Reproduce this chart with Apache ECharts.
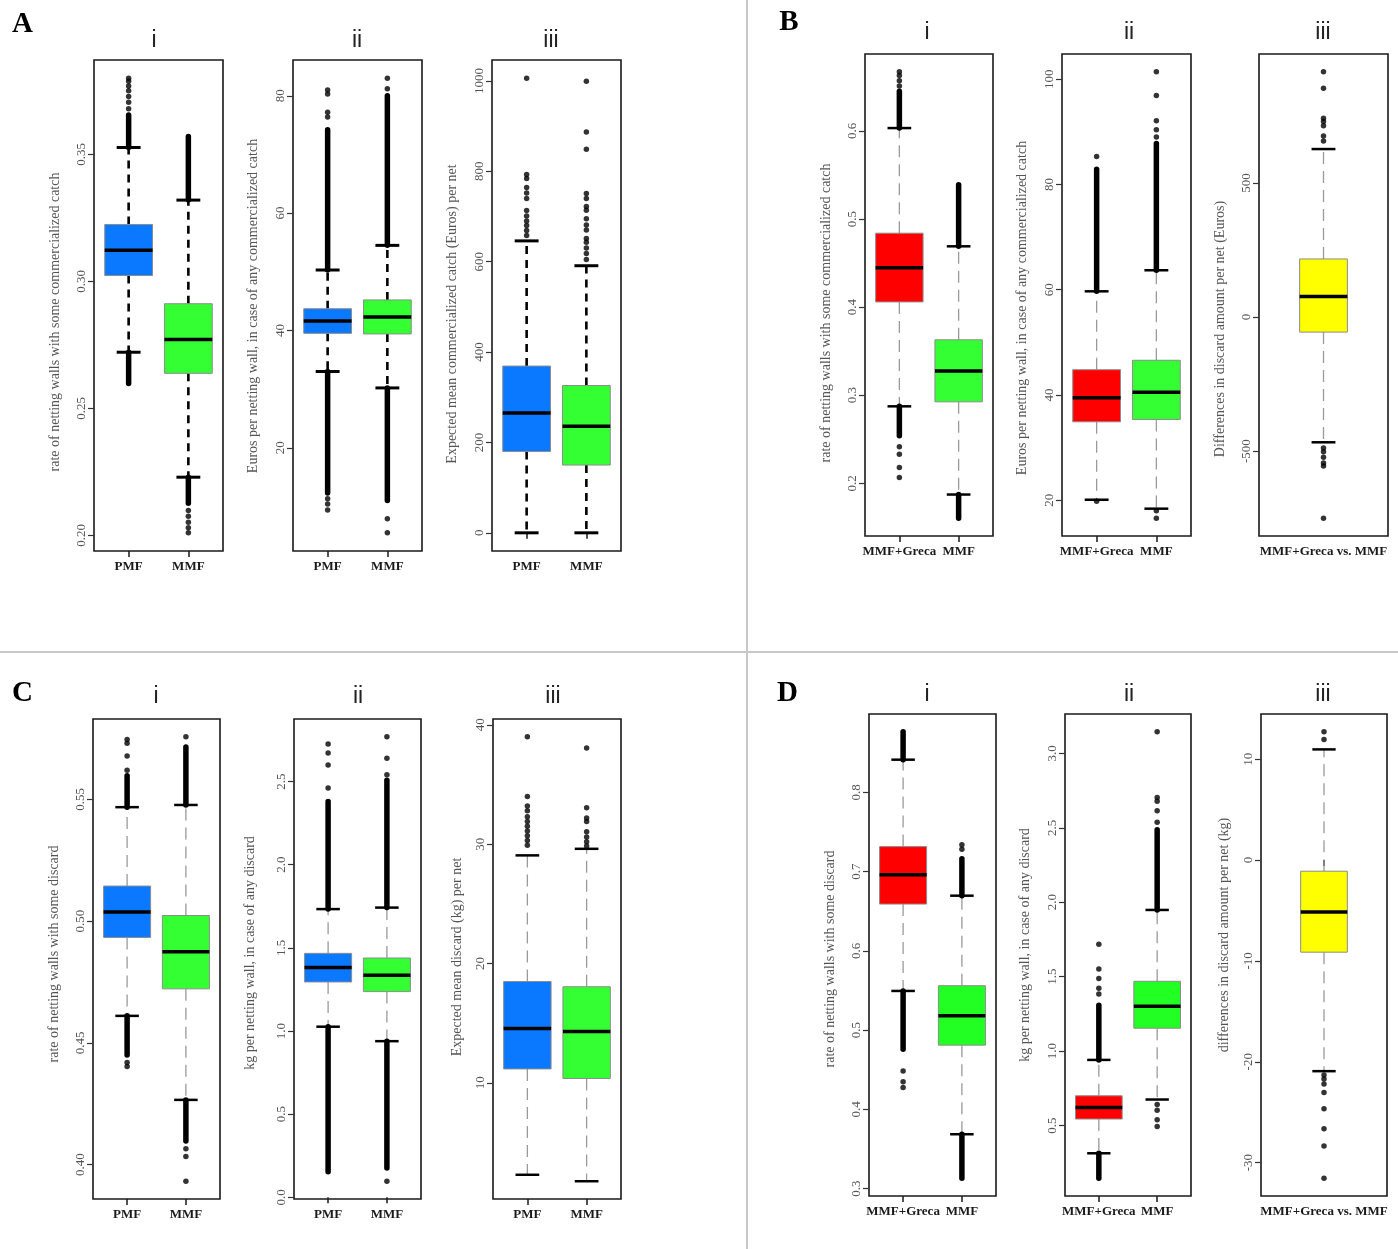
<!DOCTYPE html>
<html>
<head>
<meta charset="utf-8">
<script src="https://cdn.jsdelivr.net/npm/echarts@6/dist/echarts.min.js"></script>
<style>html,body{margin:0;padding:0;background:#fff}#c{width:1398px;height:1249px}</style>
</head>
<body>
<div id="c"></div>
<script>
// ---------- categories ----------
const catPM = ['PMF', 'MMF'];
const catGM = ['MMF+Greca', 'MMF'];
const catDiff = ['MMF+Greca vs. MMF'];

// ---------- data ----------
// box stats per group: [lower whisker, Q1, median, Q3, upper whisker]
// bands: dense runs of outliers per group, [from, to]
// points: individual outliers per group
// ----- A i -----
const Ai_box = [[0.2721, 0.3023, 0.3123, 0.3224, 0.3527], [0.2229, 0.2638, 0.2771, 0.2912, 0.3320]];
const Ai_bands = [[[0.3527, 0.3655], [0.2598, 0.2721]], [[0.3320, 0.3570], [0.2126, 0.2229]]];
const Ai_points = [[0.3680, 0.3705, 0.3728, 0.3751, 0.3769, 0.3788, 0.3800], [0.2098, 0.2075, 0.2052, 0.2030, 0.2010]];
const Ai_ticks = [0.20, 0.25, 0.30, 0.35];
// ----- A ii -----
const Aii_box = [[33.0, 39.5, 41.6, 43.7, 50.3], [30.2, 39.4, 42.3, 45.2, 54.5]];
const Aii_bands = [[[50.3, 74.2], [12.3, 33.0]], [[54.5, 80.0], [11.0, 30.2]]];
const Aii_points = [[76.4, 77.2, 80.3, 81.0, 11.3, 10.4, 9.4], [81.2, 83.0, 7.9, 5.5]];
const Aii_ticks = [20, 40, 60, 80];
// ----- A iii -----
const Aiii_box = [[0, 180, 265, 369, 646], [0, 150, 236, 326, 591]];
const Aiii_bands = [[], []];
const Aiii_points = [[1006, 793, 784, 764, 752, 740, 713, 701, 690, 680, 669, 658],
                     [999, 887, 849, 751, 740, 722, 714, 695, 681, 670, 651, 643, 630, 618, 605]];
const Aiii_ticks = [0, 200, 400, 600, 800, 1000];
// ----- B i -----
const Bi_box = [[0.2874, 0.4059, 0.4447, 0.4839, 0.6032], [0.1873, 0.2925, 0.3275, 0.3629, 0.4690]];
const Bi_bands = [[[0.6032, 0.6450], [0.2540, 0.2874]], [[0.4690, 0.5390], [0.1605, 0.1873]]];
const Bi_points = [[0.6510, 0.6570, 0.6630, 0.6670, 0.2415, 0.2330, 0.2180, 0.2065], []];
const Bi_ticks = [0.2, 0.3, 0.4, 0.5, 0.6];
// ----- B ii -----
const Bii_box = [[20.1, 34.9, 39.5, 44.8, 59.7], [18.4, 35.35, 40.5, 46.6, 63.7]];
const Bii_bands = [[[59.7, 82.9]], [[63.7, 87.8]]];
const Bii_points = [[85.3, 19.8], [89.0, 90.4, 92.1, 96.9, 101.4, 18.0, 16.6]];
const Bii_ticks = [20, 40, 60, 80, 100];
// ----- B iii -----
const Biii_box = [[-467, -56, 77, 217, 627]];
const Biii_bands = [[]];
const Biii_points = [[915, 854, 742, 730, 714, 676, 657, -488, -502, -523, -544, -555, -750]];
const Biii_ticks = [-500, 0, 500];
// ----- C i -----
const Ci_box = [[0.4611, 0.4933, 0.5038, 0.5144, 0.5468], [0.4266, 0.4722, 0.4874, 0.5023, 0.5477]];
const Ci_bands = [[[0.5468, 0.5597], [0.4450, 0.4611]], [[0.5477, 0.5715], [0.4097, 0.4266]]];
const Ci_points = [[0.5620, 0.5678, 0.5730, 0.5746, 0.4419, 0.4403], [0.5757, 0.4065, 0.4034, 0.3932]];
const Ci_ticks = [0.40, 0.45, 0.50, 0.55];
// ----- C ii -----
const Cii_box = [[1.026, 1.295, 1.382, 1.467, 1.733], [0.939, 1.237, 1.336, 1.439, 1.742]];
const Cii_bands = [[[1.733, 2.380], [0.154, 1.026]], [[1.742, 2.507], [0.177, 0.939]]];
const Cii_points = [[2.461, 2.599, 2.672, 2.725], [2.541, 2.640, 2.769, 0.097]];
const Cii_ticks = [0.0, 0.5, 1.0, 1.5, 2.0, 2.5];
// ----- C iii -----
const Ciii_box = [[2.29, 11.16, 14.55, 18.49, 29.06], [1.75, 10.36, 14.30, 18.05, 29.61]];
const Ciii_bands = [[], []];
const Ciii_points = [[39.0, 34.0, 33.2, 32.8, 32.3, 31.9, 31.5, 31.1, 30.7, 30.3, 29.9],
                     [38.05, 33.06, 32.2, 31.9, 31.05, 30.6, 30.2, 29.85]];
const Ciii_ticks = [10, 20, 30, 40];
// ----- D i -----
const Di_box = [[0.5495, 0.6591, 0.6961, 0.7316, 0.8413], [0.3687, 0.4811, 0.5183, 0.5561, 0.6697]];
const Di_bands = [[[0.8413, 0.8764], [0.4758, 0.5495]], [[0.6697, 0.7163], [0.3133, 0.3687]]];
const Di_points = [[0.4485, 0.4350, 0.4278], [0.7284, 0.7341]];
const Di_ticks = [0.3, 0.4, 0.5, 0.6, 0.7, 0.8];
// ----- D ii -----
const Dii_box = [[0.314, 0.544, 0.621, 0.700, 0.941], [0.675, 1.154, 1.302, 1.469, 1.948]];
const Dii_bands = [[[0.941, 1.308], [0.147, 0.314]], [[1.948, 2.486]]];
const Dii_points = [[1.384, 1.423, 1.487, 1.551, 1.718], [2.537, 2.614, 2.678, 2.703, 3.144, 0.642, 0.603, 0.539, 0.493]];
const Dii_ticks = [0.5, 1.0, 1.5, 2.0, 2.5, 3.0];
// ----- D iii -----
const Diii_box = [[-20.93, -9.13, -5.14, -1.10, 10.98]];
const Diii_bands = [[]];
const Diii_points = [[12.72, 11.96, -21.3, -21.7, -22.2, -23.05, -24.65, -26.65, -28.36, -31.54]];
const Diii_ticks = [-30, -20, -10, 0, 10];

// ---------- styles ----------
const BLUE = '#0a78ff', GREEN = '#33ff33', GREEN2 = '#22ff22', RED = '#ff0000', YELLOW = '#ffff00';
const WH_A = { color: '#000', width: 2.6, dash: [8, 6], cap: 3 };
const WH_G = { color: '#9a9a9a', width: 1.3, dash: [12, 7], cap: 2.5 };
const SERIF = '"Liberation Serif", "Times New Roman", serif';
const SANS = '"Liberation Sans", Arial, sans-serif';

// ---------- layout (frames: left, top, right, bottom; axis-title centre; sub-title centre) ----------
const plots = [
  { cats: catPM, box: Ai_box, bands: Ai_bands, pts: Ai_points, ticks: Ai_ticks, dec: 2, fills: [BLUE, GREEN], wh: WH_A,
    name: 'rate of netting walls with some commercialized catch', namePos: [55, 322],
    frame: [94, 60, 223, 551], sub: 'i', subPos: [154, 41] },
  { cats: catPM, box: Aii_box, bands: Aii_bands, pts: Aii_points, ticks: Aii_ticks, dec: 0, fills: [BLUE, GREEN], wh: WH_A,
    name: 'Euros per netting wall, in case of any commercialized catch', namePos: [253, 306],
    frame: [293, 60, 422, 551], sub: 'ii', subPos: [357, 41] },
  { cats: catPM, box: Aiii_box, bands: Aiii_bands, pts: Aiii_points, ticks: Aiii_ticks, dec: 0, fills: [BLUE, GREEN], wh: WH_A,
    name: 'Expected mean commercialized catch (Euros) per net', namePos: [452, 314],
    frame: [492, 60, 621, 551], sub: 'iii', subPos: [551, 41] },
  { cats: catGM, box: Bi_box, bands: Bi_bands, pts: Bi_points, ticks: Bi_ticks, dec: 1, fills: [RED, GREEN], wh: WH_G,
    name: 'rate of netting walls with some commercialized catch', namePos: [826, 313],
    frame: [865, 54, 993, 536], sub: 'i', subPos: [927, 33] },
  { cats: catGM, box: Bii_box, bands: Bii_bands, pts: Bii_points, ticks: Bii_ticks, dec: 0, fills: [RED, GREEN], wh: WH_G,
    name: 'Euros per netting wall, in case of any commercialized catch', namePos: [1022, 308],
    frame: [1062, 54, 1191, 536], sub: 'ii', subPos: [1129, 33] },
  { cats: catDiff, box: Biii_box, bands: Biii_bands, pts: Biii_points, ticks: Biii_ticks, dec: 0, fills: [YELLOW], wh: WH_G,
    name: 'Differences in discard amount per net (Euros)', namePos: [1220, 329],
    frame: [1259, 54, 1388, 536], sub: 'iii', subPos: [1323, 33] },
  { cats: catPM, box: Ci_box, bands: Ci_bands, pts: Ci_points, ticks: Ci_ticks, dec: 2, fills: [BLUE, GREEN], wh: WH_G,
    name: 'rate of netting walls with some discard', namePos: [54, 954],
    frame: [93, 719, 220, 1199], sub: 'i', subPos: [156, 697] },
  { cats: catPM, box: Cii_box, bands: Cii_bands, pts: Cii_points, ticks: Cii_ticks, dec: 1, fills: [BLUE, GREEN], wh: WH_G,
    name: 'kg per netting wall, in case of any discard', namePos: [250, 953],
    frame: [294, 719, 421, 1199], sub: 'ii', subPos: [358, 697] },
  { cats: catPM, box: Ciii_box, bands: Ciii_bands, pts: Ciii_points, ticks: Ciii_ticks, dec: 0, fills: [BLUE, GREEN], wh: WH_G,
    name: 'Expected mean discard (kg) per net', namePos: [457, 957],
    frame: [493, 719, 621, 1199], sub: 'iii', subPos: [553, 697] },
  { cats: catGM, box: Di_box, bands: Di_bands, pts: Di_points, ticks: Di_ticks, dec: 1, fills: [RED, GREEN2], wh: WH_G,
    name: 'rate of netting walls with some discard', namePos: [830, 959],
    frame: [869, 714, 996, 1196], sub: 'i', subPos: [927, 695] },
  { cats: catGM, box: Dii_box, bands: Dii_bands, pts: Dii_points, ticks: Dii_ticks, dec: 1, fills: [RED, GREEN2], wh: WH_G,
    name: 'kg per netting wall, in case of any discard', namePos: [1025, 945],
    frame: [1065, 714, 1191, 1196], sub: 'ii', subPos: [1129, 695] },
  { cats: catDiff, box: Diii_box, bands: Diii_bands, pts: Diii_points, ticks: Diii_ticks, dec: 0, fills: [YELLOW], wh: WH_G,
    name: 'differences in discard amount per net (kg)', namePos: [1224, 935],
    frame: [1261, 714, 1387, 1196], sub: 'iii', subPos: [1323, 695] }
];

function boxRenderer(fills, wh) {
  return function (params, api) {
    const x0 = api.value(0);
    const pLo = api.coord([x0, api.value(1)]);
    const pQ1 = api.coord([x0, api.value(2)]);
    const pMd = api.coord([x0, api.value(3)]);
    const pQ3 = api.coord([x0, api.value(4)]);
    const pHi = api.coord([x0, api.value(5)]);
    const x = pMd[0];
    const bw = api.size([0.8, 0])[0];
    const cw = bw * 0.5;
    const wStyle = { stroke: wh.color, lineWidth: wh.width, lineDash: wh.dash, fill: null };
    const cStyle = { stroke: '#000', lineWidth: wh.cap, fill: null };
    return {
      type: 'group',
      children: [
        { type: 'line', shape: { x1: x, y1: pQ3[1], x2: x, y2: pHi[1] }, style: wStyle },
        { type: 'line', shape: { x1: x, y1: pQ1[1], x2: x, y2: pLo[1] }, style: wStyle },
        { type: 'line', shape: { x1: x - cw / 2, y1: pHi[1], x2: x + cw / 2, y2: pHi[1] }, style: cStyle },
        { type: 'line', shape: { x1: x - cw / 2, y1: pLo[1], x2: x + cw / 2, y2: pLo[1] }, style: cStyle },
        { type: 'rect', shape: { x: x - bw / 2, y: pQ3[1], width: bw, height: pQ1[1] - pQ3[1] },
          style: { fill: fills[params.dataIndex], stroke: '#8c8c8c', lineWidth: 1 } },
        { type: 'line', shape: { x1: x - bw / 2, y1: pMd[1], x2: x + bw / 2, y2: pMd[1] },
          style: { stroke: '#000', lineWidth: 3.5, fill: null } }
      ]
    };
  };
}

function bandRenderer(params, api) {
  const x0 = api.value(0);
  const a = api.coord([x0, api.value(1)]);
  const b = api.coord([x0, api.value(2)]);
  return { type: 'line', shape: { x1: a[0], y1: a[1], x2: b[0], y2: b[1] },
           style: { stroke: '#000', lineWidth: 5.5, lineCap: 'round', fill: null } };
}

const grid = [], xAxis = [], yAxis = [], series = [];
const graphic = [
  { type: 'line', shape: { x1: 747, y1: 0, x2: 747, y2: 1249 }, style: { stroke: '#c8c8c8', lineWidth: 2 } },
  { type: 'line', shape: { x1: 0, y1: 652, x2: 1398, y2: 652 }, style: { stroke: '#c8c8c8', lineWidth: 2 } }
];
[['A', 22.5, 25], ['B', 789, 23], ['C', 22.5, 694], ['D', 787.5, 694]].forEach(([t, x, y]) => {
  graphic.push({ type: 'text', x: x, y: y, style: { text: t, font: 'bold 29px ' + SERIF, fill: '#000',
    textAlign: 'center', textVerticalAlign: 'middle', verticalAlign: 'middle' } });
});

plots.forEach((p, i) => {
  const [L, T, R, B] = p.frame;
  const n = p.cats.length;
  const pos = n === 2 ? [1, 2] : [1.5];
  const all = [];
  p.box.forEach(b => all.push(...b));
  p.bands.forEach(g => g.forEach(r => all.push(...r)));
  p.pts.forEach(g => all.push(...g));
  const lo = Math.min(...all), hi = Math.max(...all), pad = 0.04 * (hi - lo);

  grid.push({ left: L, top: T, width: R - L, height: B - T, show: true, borderColor: '#1a1a1a', borderWidth: 1.6,
              backgroundColor: 'transparent', containLabel: false });
  xAxis.push({
    gridIndex: i, type: 'value', min: 0.42, max: 2.58,
    axisLine: { show: false }, splitLine: { show: false },
    axisTick: { show: true, customValues: pos, length: 6, lineStyle: { color: '#1a1a1a', width: 1.5 } },
    axisLabel: { show: true, customValues: pos, margin: 9, fontFamily: SERIF, fontWeight: 'bold', fontSize: 13, color: '#1a1a1a',
                 formatter: v => { const k = pos.indexOf(v); return k >= 0 ? p.cats[k] : ''; } }
  });
  yAxis.push({
    gridIndex: i, type: 'value', min: lo - pad, max: hi + pad,
    axisLine: { show: false }, splitLine: { show: false },
    axisTick: { show: true, customValues: p.ticks, length: 6, lineStyle: { color: '#333', width: 1.2 } },
    axisLabel: { show: true, customValues: p.ticks, rotate: 90, margin: 6, fontFamily: SERIF, fontSize: 13, color: '#555',
                 formatter: v => v.toFixed(p.dec) }
  });

  series.push({
    type: 'custom', xAxisIndex: i, yAxisIndex: i, z: 2, silent: true,
    data: p.box.map((b, k) => [pos[k], ...b]),
    encode: { x: 0, y: [1, 2, 3, 4, 5] },
    renderItem: boxRenderer(p.fills, p.wh)
  });
  const bandData = [];
  p.bands.forEach((g, k) => g.forEach(r => bandData.push([pos[k], r[0], r[1]])));
  series.push({
    type: 'custom', xAxisIndex: i, yAxisIndex: i, z: 3, silent: true,
    data: bandData, encode: { x: 0, y: [1, 2] }, renderItem: bandRenderer
  });
  const ptData = [];
  p.pts.forEach((g, k) => g.forEach(v => ptData.push([pos[k], v])));
  series.push({
    type: 'scatter', xAxisIndex: i, yAxisIndex: i, z: 3, silent: true,
    data: ptData, symbol: 'circle', symbolSize: 5.5, itemStyle: { color: '#000' }
  });

  graphic.push({ type: 'text', x: p.subPos[0], y: p.subPos[1], style: { text: p.sub, font: '23px ' + SANS, fill: '#222',
    textAlign: 'center', textVerticalAlign: 'middle', verticalAlign: 'middle' } });
  graphic.push({ type: 'text', x: p.namePos[0], y: p.namePos[1], rotation: Math.PI / 2,
    style: { text: p.name, font: '14px ' + SERIF, fill: '#555',
      textAlign: 'center', textVerticalAlign: 'middle', verticalAlign: 'middle' } });
});

const chart = echarts.init(document.getElementById('c'), null, { renderer: 'canvas' });
chart.setOption({ animation: false, backgroundColor: '#fff', grid, xAxis, yAxis, series, graphic });
</script>
</body>
</html>
